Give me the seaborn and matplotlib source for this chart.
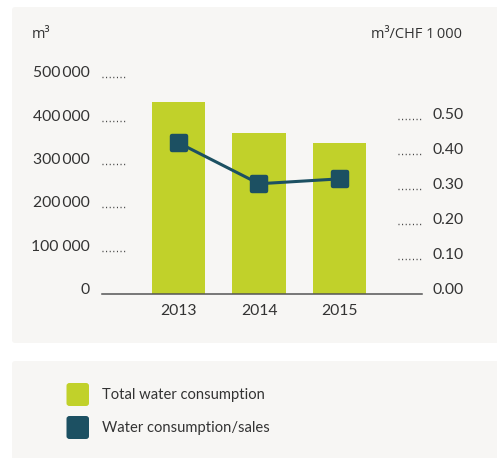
import matplotlib.pyplot as plt
import matplotlib.transforms as mtransforms
import seaborn as sns
import pandas as pd
from matplotlib.markers import MarkerStyle
from matplotlib.patches import FancyBboxPatch

YEARS = ["2013", "2014", "2015"]
TOTAL_WATER = [442000, 371000, 348000]
WATER_PER_SALES = [0.432, 0.315, 0.329]

LEFT_TICKS = [0, 100000, 200000, 300000, 400000, 500000]
LEFT_LABELS = ["0", "100 000", "200\u2009000", "300\u2009000", "400\u2009000", "500\u2009000"]
RIGHT_TICKS = [0.0, 0.1, 0.2, 0.3, 0.4, 0.5]
RIGHT_LABELS = ["0.00", "0.10", "0.20", "0.30", "0.40", "0.50"]

GREEN = "#c1d12a"
BLUE = "#1c5062"
TEXT = "#333333"
PANEL = "#f7f6f4"
FONT = ["Lato", "DejaVu Sans"]
UNIT_FONT = ["Open Sans", "DejaVu Sans"]

sns.set_theme(style="white")
plt.rcParams["font.family"] = FONT
plt.rcParams["text.color"] = TEXT

W, H = 497, 458
fig = plt.figure(figsize=(W / 100, H / 100), dpi=100)
fig.patch.set_facecolor("white")


def px_box(x0, y0, x1, y1):
    # pixel coords (top-left origin) -> figure fraction
    return x0 / W, 1 - y1 / H, (x1 - x0) / W, (y1 - y0) / H


for (x0, y0, x1, y1) in [(12, 7, 510, 343), (12, 361, 510, 475)]:
    l, b, w, h = px_box(x0, y0, x1, y1)
    fig.patches.append(FancyBboxPatch((l, b), w, h, boxstyle="round,pad=0,rounding_size=0.007",
                                      transform=fig.transFigure, facecolor=PANEL,
                                      edgecolor="none", zorder=-10))

ax = fig.add_axes(px_box(102, 60, 421.7, 294))
ax.set_facecolor("none")

df = pd.DataFrame({"year": YEARS, "total": TOTAL_WATER, "ratio": WATER_PER_SALES})
sns.barplot(data=df, x="year", y="total", color=GREEN, saturation=1, width=0.66,
            linewidth=0, ax=ax, zorder=2)
ax.set_xlim(-0.95, 3.02)
ax.set_ylim(0, 540000)

ax2 = ax.twinx()
ax2.set_ylim(0, 0.6686)
mk = MarkerStyle("s", joinstyle="round")
ax2.plot(range(len(YEARS)), df["ratio"], color=BLUE, lw=2.2, marker=mk, ms=10.5,
         mew=3.2, mfc=BLUE, mec=BLUE, zorder=3)

for a in (ax, ax2):
    for s in a.spines.values():
        s.set_visible(False)
    a.set_xlabel("")
    a.set_ylabel("")
    a.grid(False)

ax.spines["bottom"].set_visible(True)
ax.spines["bottom"].set_color("#555555")
ax.spines["bottom"].set_linewidth(1.1)
ax.spines["bottom"].set_zorder(4)

ax.set_yticks(LEFT_TICKS)
ax.set_yticklabels(LEFT_LABELS, fontsize=11.3, color=TEXT, va="baseline")
ax.tick_params(axis="y", length=0, pad=9)
ax.tick_params(axis="x", length=0, pad=7, labelsize=11.3, labelcolor=TEXT)

ax2.set_yticks(RIGHT_TICKS)
ax2.set_yticklabels(RIGHT_LABELS, fontsize=11.3, color=TEXT, va="baseline")
ax2.tick_params(axis="y", length=0, pad=7.5)
for t in ax.get_yticklabels() + ax2.get_yticklabels():
    t.set_fontfamily(FONT)

# dotted leaders next to the tick labels
lt = mtransforms.blended_transform_factory(ax.transAxes, ax.transData)
for v in LEFT_TICKS[1:]:
    ax.plot([0, 25 / 319.7], [v, v], transform=lt, color=TEXT, lw=1,
            ls=(0, (0.7, 1.9)), clip_on=False, zorder=1)
rt = mtransforms.blended_transform_factory(ax2.transAxes, ax2.transData)
for v in RIGHT_TICKS[1:]:
    ax2.plot([1 - 24 / 319.7, 1], [v, v], transform=rt, color=TEXT, lw=1,
             ls=(0, (0.7, 1.9)), clip_on=False, zorder=1)

fig.text(32 / W, 1 - 35 / H, "m³", fontsize=10.5, ha="left", va="center",
         color=TEXT, family=UNIT_FONT)
fig.text(462 / W, 1 - 34 / H, "m³/CHF 1\u2009000", fontsize=10.5, ha="right", va="center",
         color=TEXT, family=UNIT_FONT)

# legend
for (y0, col, label) in [(383, GREEN, "Total water consumption"), (416, BLUE, "Water consumption/sales")]:
    l, b, w, h = px_box(66.5, y0, 89, y0 + 23)
    fig.patches.append(FancyBboxPatch((l, b), w, h, boxstyle="round,pad=0,rounding_size=0.006",
                                      transform=fig.transFigure, facecolor=col,
                                      edgecolor="none", zorder=1))
    fig.text(102 / W, 1 - (y0 + 12) / H, label, fontsize=10.6, ha="left", va="center", color=TEXT)

fig.savefig("out.png", dpi=100, facecolor="white")
